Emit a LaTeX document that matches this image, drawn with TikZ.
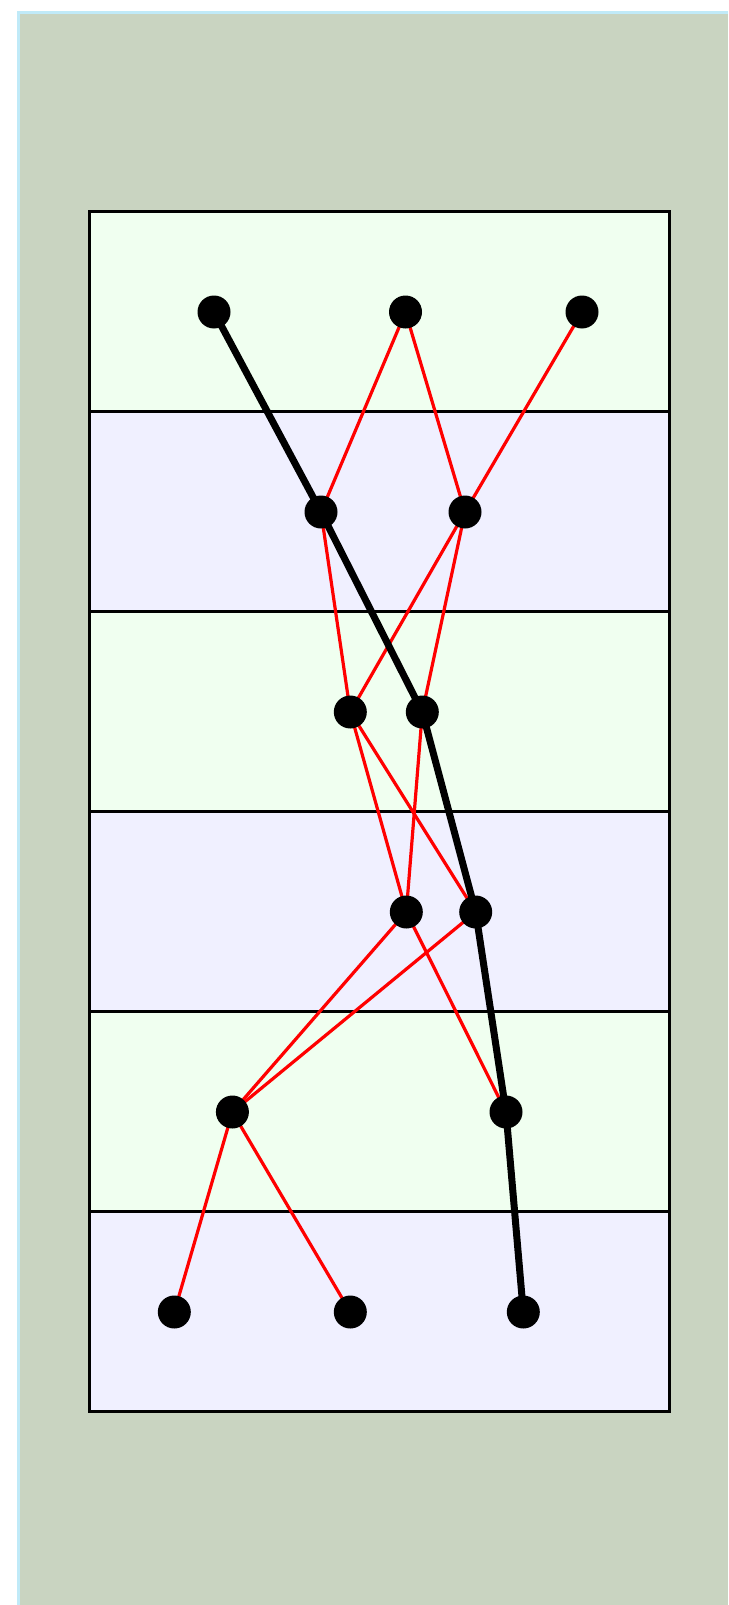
\documentclass[tikz,border=0pt]{standalone}
\definecolor{bgouter}{RGB}{201,212,193}
\definecolor{bgborder}{RGB}{192,234,248}
\definecolor{rowgreen}{RGB}{240,255,240}
\definecolor{rowblue}{RGB}{240,240,255}
\pgfdeclarelayer{bg}
\pgfsetlayers{bg,main}
\begin{document}
\begin{tikzpicture}[x=1pt,y=-1pt,
  dot/.style={circle,fill=black,draw=none,minimum size=33pt,inner sep=0pt},
  rowbox/.style={draw=black,line width=2.5pt},
  mainpath/.style={draw=black,line width=7pt,line join=round},
  sidepath/.style={draw=red,line width=3.2pt}]
\useasboundingbox (0,0) rectangle (728,1605);
\begin{pgfonlayer}{bg}
\fill[white] (0,0) rectangle (728,1605);
\fill[bgborder] (17,11) rectangle (728,1605);
\fill[bgouter] (20,14) rectangle (728,1605);
\foreach \k in {0,2,4} {
  \filldraw[rowbox,fill=rowgreen] (89.5,211.5+200*\k) rectangle (669.5,411.5+200*\k);
  \filldraw[rowbox,fill=rowblue] (89.5,411.5+200*\k) rectangle (669.5,611.5+200*\k);
}
\end{pgfonlayer}
% row 1
\node[dot] (a1) at (214,312) {};
\node[dot] (a2) at (405.5,312) {};
\node[dot] (a3) at (582,312) {};
% row 2
\node[dot] (b1) at (321,512) {};
\node[dot] (b2) at (465,512) {};
% row 3
\node[dot] (c1) at (350.3,712) {};
\node[dot] (c2) at (422.3,712) {};
% row 4
\node[dot] (d1) at (406.3,912) {};
\node[dot] (d2) at (475.7,912) {};
% row 5
\node[dot] (e1) at (232.4,1112) {};
\node[dot] (e2) at (506,1112) {};
% row 6
\node[dot] (f1) at (174.3,1312) {};
\node[dot] (f2) at (350.3,1312) {};
\node[dot] (f3) at (523.3,1312) {};
\begin{pgfonlayer}{bg}
\draw[sidepath] (a2.center) -- (b1.center);
\draw[sidepath] (a2.center) -- (b2.center);
\draw[sidepath] (a3.center) -- (b2.center);
\draw[sidepath] (b1.center) -- (c1.center);
\draw[sidepath] (b2.center) -- (c1.center);
\draw[sidepath] (b2.center) -- (c2.center);
\draw[sidepath] (c1.center) -- (d1.center);
\draw[sidepath] (c1.center) -- (d2.center);
\draw[sidepath] (c2.center) -- (d1.center);
\draw[sidepath] (d1.center) -- (e1.center);
\draw[sidepath] (d2.center) -- (e1.center);
\draw[sidepath] (d1.center) -- (e2.center);
\draw[sidepath] (e1.center) -- (f1.center);
\draw[sidepath] (e1.center) -- (f2.center);
\draw[mainpath] (a1.center) -- (b1.center) -- (c2.center) -- (d2.center) -- (e2.center) -- (f3.center);
\end{pgfonlayer}
\end{tikzpicture}
\end{document}
